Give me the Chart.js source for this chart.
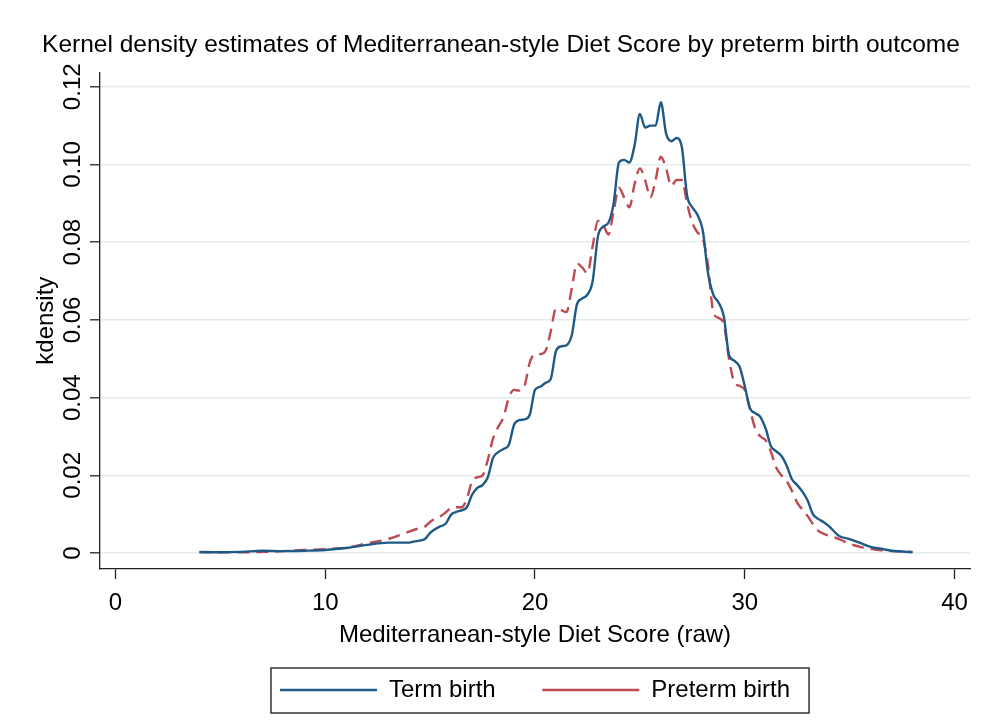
<!DOCTYPE html>
<html>
<head>
<meta charset="utf-8">
<script src="https://cdn.jsdelivr.net/npm/chart.js@4.4.1/dist/chart.umd.min.js"></script>
<style>
  html, body { margin: 0; padding: 0; background: #fff; }
  #wrap { width: 984px; height: 724px; }
</style>
</head>
<body>
<div id="wrap"><canvas id="kdens" width="984" height="724"></canvas></div>
<script>
// diet score grid (raw) where the densities were read
var dietScore = [4, 5, 6, 7, 8, 9, 10, 11, 12, 13,
    14, 14.25, 14.5, 14.75, 15, 15.25, 15.5, 15.75, 16, 16.25, 16.5, 16.75,
    17, 17.25, 17.5, 17.75, 18, 18.25, 18.5, 18.75, 19, 19.25, 19.5, 19.75,
    20, 20.25, 20.5, 20.75, 21, 21.25, 21.5, 21.75, 22, 22.25, 22.5, 22.75,
    23, 23.25, 23.5, 23.75, 24, 24.25, 24.5, 24.75, 25, 25.25, 25.5, 25.75,
    26, 26.25, 26.5, 26.75, 27, 27.25, 27.5, 27.75, 28, 28.25, 28.5, 28.75,
    29, 29.25, 29.5, 29.75, 30, 30.25, 30.5, 30.75, 31, 31.25, 31.5, 31.75,
    32, 32.25, 32.5, 32.75, 33, 33.25, 33.5, 33.75, 34,
    34.5, 35, 35.5, 36, 36.5, 37, 37.5, 38];

var termBirth = [0.0002, 0.0002, 0.0003, 0.0006, 0.0005, 0.0006, 0.0008, 0.0013, 0.0021, 0.0027,
    0.0027, 0.0030, 0.0032, 0.0036, 0.0052, 0.0062, 0.0069, 0.0076, 0.0099, 0.0106, 0.0110, 0.0118,
    0.0150, 0.0168, 0.0175, 0.0195, 0.0245, 0.0260, 0.0268, 0.0278, 0.0330, 0.0342, 0.0344, 0.0356,
    0.0420, 0.0428, 0.0438, 0.0448, 0.0520, 0.0532, 0.0535, 0.0560, 0.0640, 0.0655, 0.0665, 0.0700,
    0.0815, 0.0840, 0.0850, 0.0900, 0.1005, 0.1012, 0.1005, 0.1050, 0.1130, 0.1095, 0.1100, 0.1100,
    0.1160, 0.1080, 0.1060, 0.1068, 0.1045, 0.0920, 0.0890, 0.0870, 0.0830, 0.0720, 0.0665, 0.0645,
    0.0610, 0.0510, 0.0495, 0.0480, 0.0430, 0.0373, 0.0360, 0.0350, 0.0320, 0.0275, 0.0262, 0.0250,
    0.0225, 0.0190, 0.0175, 0.0158, 0.0135, 0.0100, 0.0088, 0.0080, 0.0070,
    0.0044, 0.0036, 0.0026, 0.0016, 0.0011, 0.0006, 0.0004, 0.0002];

var pretermBirth = [0.0003, 0.0002, 0.0002, 0.0003, 0.0005, 0.0008, 0.0010, 0.0014, 0.0025, 0.0036,
    0.0055, 0.0060, 0.0064, 0.0068, 0.0080, 0.0090, 0.0095, 0.0105, 0.0116, 0.0118, 0.0118, 0.0140,
    0.0185, 0.0195, 0.0200, 0.0240, 0.0295, 0.0325, 0.0350, 0.0400, 0.0420, 0.0418, 0.0430, 0.0490,
    0.0512, 0.0512, 0.0520, 0.0570, 0.0630, 0.0625, 0.0620, 0.0680, 0.0745, 0.0735, 0.0720, 0.0790,
    0.0855, 0.0845, 0.0820, 0.0880, 0.0940, 0.0915, 0.0890, 0.0950, 0.0990, 0.0960, 0.0915, 0.0960,
    0.1020, 0.0990, 0.0945, 0.0960, 0.0960, 0.0900, 0.0850, 0.0825, 0.0810, 0.0740, 0.0620, 0.0605,
    0.0590, 0.0500, 0.0440, 0.0430, 0.0420, 0.0370, 0.0320, 0.0300, 0.0290, 0.0260, 0.0220, 0.0200,
    0.0185, 0.0160, 0.0130, 0.0112, 0.0095, 0.0075, 0.0058, 0.0050, 0.0045,
    0.0036, 0.0024, 0.0016, 0.0011, 0.0007, 0.0005, 0.0004, 0.0003];

var seriesNames = ["Term birth", "Preterm birth"];
var xTicks = [0, 10, 20, 30, 40];
var yTicks = [0, 0.02, 0.04, 0.06, 0.08, 0.10, 0.12];

var colors = {
    term: "#1f5a87",
    preterm: "#be4a52",
    grid: "#e3eced",
    axis: "#222222"
};

var font = "Arial, 'Liberation Sans', sans-serif";

function toPoints(ys) {
    return dietScore.map(function(x, i) { return { x: x, y: ys[i] }; });
}

// outline around the legend, Stata style
var legendFrame = {
    id: 'legendFrame',
    afterDraw: function(chart) {
        var lg = chart.legend;
        if (!lg || !lg.legendHitBoxes.length) return;
        var boxes = lg.legendHitBoxes;
        var first = boxes[0], last = boxes[boxes.length - 1];
        var left = first.left - 9;
        var right = last.left + last.width + 19;
        var mid = first.top + first.height / 2;
        var ctx = chart.ctx;
        ctx.save();
        ctx.strokeStyle = "#333";
        ctx.lineWidth = 1.5;
        ctx.strokeRect(left, mid - 22, right - left, 45);
        ctx.restore();
    }
};

var kdensConfig = {
    type: 'line',
    data: {
        datasets: [{
            label: seriesNames[0] + '    ',
            data: toPoints(termBirth),
            borderColor: colors.term,
            backgroundColor: colors.term,
            borderWidth: 2.4,
            pointRadius: 0,
            pointStyle: 'line',
            cubicInterpolationMode: 'monotone',
            fill: false
        }, {
            label: seriesNames[1],
            data: toPoints(pretermBirth),
            borderColor: colors.preterm,
            backgroundColor: colors.preterm,
            borderWidth: 2.4,
            borderDash: [12, 7],
            pointRadius: 0,
            pointStyle: 'line',
            cubicInterpolationMode: 'monotone',
            fill: false
        }]
    },
    options: {
        responsive: false,
        animation: false,
        layout: {
            padding: { left: 32, right: 14, top: 0, bottom: 12 }
        },
        plugins: {
            title: {
                display: true,
                text: 'Kernel density estimates of Mediterranean-style Diet Score by preterm birth outcome',
                color: '#000',
                font: { family: font, size: 24.5, weight: 'normal' },
                padding: { top: 31, bottom: 12 }
            },
            legend: {
                position: 'bottom',
                fullSize: false,
                labels: {
                    usePointStyle: true,
                    pointStyleWidth: 97,
                    color: '#000',
                    padding: 20,
                    font: { family: font, size: 24 }
                }
            },
            tooltip: { enabled: false }
        },
        scales: {
            x: {
                type: 'linear',
                min: -0.74,
                max: 40.74,
                afterBuildTicks: function(scale) {
                    scale.ticks = xTicks.map(function(v) { return { value: v }; });
                },
                afterFit: function(scale) { scale.height = 89; },
                ticks: {
                    color: '#000',
                    padding: 10,
                    maxRotation: 0,
                    font: { family: font, size: 24 }
                },
                grid: {
                    display: true,
                    drawOnChartArea: false,
                    drawTicks: true,
                    tickLength: 10,
                    tickColor: colors.axis,
                    tickWidth: 1.3
                },
                border: { display: true, color: colors.axis, width: 1.3 },
                title: {
                    display: true,
                    text: 'Mediterranean-style Diet Score (raw)',
                    color: '#000',
                    font: { family: font, size: 24 },
                    padding: { top: 0, bottom: 8 }
                }
            },
            y: {
                type: 'linear',
                min: -0.0041,
                max: 0.1237,
                afterBuildTicks: function(scale) {
                    scale.ticks = yTicks.map(function(v) { return { value: v }; });
                },
                afterFit: function(scale) { scale.width = 68; },
                ticks: {
                    color: '#000',
                    padding: -7,
                    minRotation: 90,
                    maxRotation: 90,
                    crossAlign: 'center',
                    font: { family: font, size: 24 },
                    callback: function(v) { return v === 0 ? '0' : v.toFixed(2); }
                },
                grid: {
                    color: colors.grid,
                    lineWidth: 1.6,
                    drawTicks: true,
                    tickLength: 10,
                    tickColor: colors.axis,
                    tickWidth: 1.3
                },
                border: { display: true, color: colors.axis, width: 1.3 },
                title: {
                    display: true,
                    text: 'kdensity',
                    color: '#000',
                    font: { family: font, size: 24 },
                    padding: { top: 0, bottom: 0 }
                }
            }
        }
    },
    plugins: [legendFrame]
};

window.onload = function() {
    var ctx = document.getElementById("kdens").getContext("2d");
    window.kdensChart = new Chart(ctx, kdensConfig);
};
</script>
</body>
</html>
